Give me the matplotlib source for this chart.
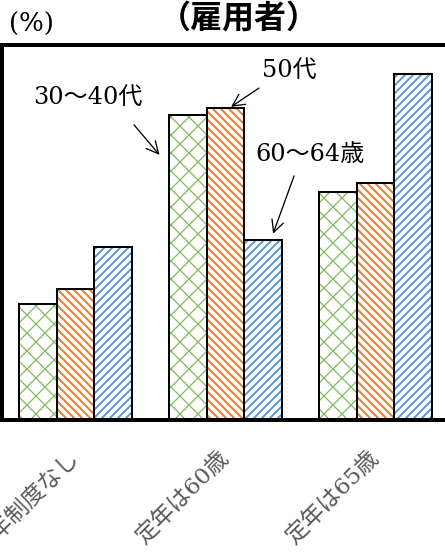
import matplotlib
matplotlib.use('Agg')
import matplotlib.pyplot as plt
from matplotlib import backend_bases
import numpy as np

plt.rcParams['font.family'] = ['DejaVu Serif', 'Noto Sans CJK JP']
plt.rcParams['hatch.linewidth'] = 2.0

# a slightly coarser cross lattice than 'xx', finer than 'x'
_hatch_path = backend_bases.GraphicsContextBase.get_hatch_path
def hatch_path(self, density=6.0):
    if self.get_hatch() == 'x':
        density = 8.5
    return _hatch_path(self, density)
backend_bases.GraphicsContextBase.get_hatch_path = hatch_path

# data
groups = ['定年制度なし', '定年は60歳', '定年は65歳']
series = ['30〜40代', '50代', '60〜64歳']
age_30_40 = [15.4, 40.6, 30.4]
age_50 = [17.4, 41.5, 31.6]
age_60_64 = [23.0, 24.0, 46.1]

colors = ['#7cb955', '#ed7d31', '#5b9bd5']
hatches = ['x', '\\\\\\', '///']
hatch_lw = [1.2, 2.0, 2.0]

DPI = 72
W, H = 445, 558
fig = plt.figure(figsize=(W / DPI, H / DPI), dpi=DPI)
ax = fig.add_axes([1.5 / W, (H - 420) / H, 1 - 1.5 / W, (420 - 44.5) / H])

x = np.arange(len(groups))
width = 0.25
for i, vals in enumerate([age_30_40, age_50, age_60_64]):
    pos = x + (i - 1) * width
    with plt.rc_context({'hatch.linewidth': hatch_lw[i]}):
        bars = ax.bar(pos, vals, width, facecolor='white', edgecolor=colors[i],
                      hatch=hatches[i], linewidth=0)
    for b in bars:
        if hasattr(b, 'set_hatch_linewidth'):
            b.set_hatch_linewidth(hatch_lw[i])
    ax.bar(pos, vals, width, fill=False, edgecolor='black', linewidth=2)

ax.set_xlim(-0.493, 2.463)
ax.set_ylim(0, 50)
ax.set_yticks([])
ax.set_xticks(x, groups)
ax.tick_params(axis='x', length=0, pad=35, labelsize=23, labelcolor='#5a5a5a')
for lbl in ax.get_xticklabels():
    lbl.set(rotation=45, ha='right', va='center', rotation_mode='anchor')

for s in ['top', 'bottom', 'left']:
    ax.spines[s].set_linewidth(4)
ax.spines['right'].set_visible(False)

# series labels with arrows
arrow = dict(arrowstyle='->,head_length=0.6,head_width=0.3', lw=1.3,
             color='black', shrinkA=0, shrinkB=0, mutation_scale=20)
ax.text(-0.283, 43.0, series[0], fontsize=24, va='center', ha='left')
ax.annotate('', xy=(0.56, age_30_40[1] - 5.3), xytext=(0.39, 39.3), arrowprops=arrow)
ax.text(1.243, 46.6, series[1], fontsize=24, va='center', ha='left')
ax.annotate('', xy=(1.037, age_50[1] + 0.2), xytext=(1.223, 44.2), arrowprops=arrow)
ax.text(1.197, 35.3, series[2], fontsize=24, va='center', ha='left')
ax.annotate('', xy=(1.317, age_60_64[1] + 0.8), xytext=(1.457, 32.5), arrowprops=arrow)

fig.text(238.5 / W, 1 - 19 / H, '（雇用者）', ha='center', va='center', fontsize=32,
         fontweight='bold', family='Noto Sans CJK JP')
fig.text(9 / W, 1 - 24 / H, '(%)', ha='left', va='center', fontsize=26)

fig.savefig('out.png', dpi=DPI)
